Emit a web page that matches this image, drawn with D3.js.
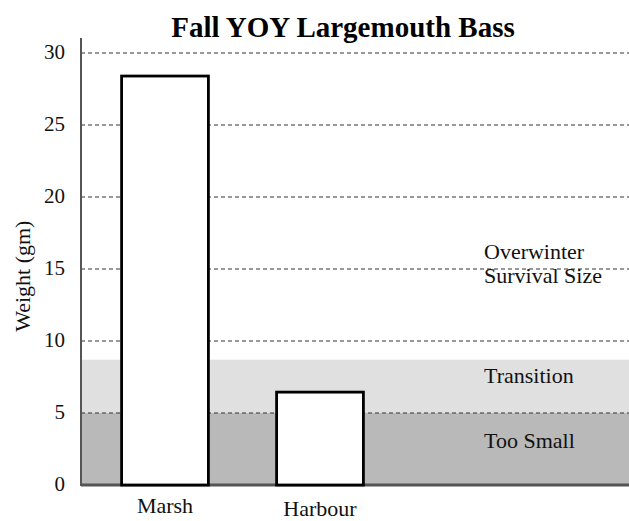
<!DOCTYPE html>
<html>
<head>
<meta charset="utf-8">
<script src="https://cdn.jsdelivr.net/npm/d3@7"></script>
<style>
  body { margin: 0; background: #fff; }
  svg { font-family: "Liberation Serif", "DejaVu Serif", serif; }
</style>
</head>
<body>
<div id="chart"></div>
<script>
// Chart data
const categories = ["Marsh", "Harbour"];
const weights = [28.4, 6.45];
const yTicks = [0, 5, 10, 15, 20, 25, 30];
// shaded zones (gm)
const zones = [
  { name: "Too Small", from: 0, to: 5, color: "#b9b9b9" },
  { name: "Transition", from: 5, to: 8.7, color: "#e0e0e0" }
];
// zone labels, anchored at a weight value (gm)
const zoneLabels = [
  { text: "Too Small", value: 2.57 },
  { text: "Transition", value: 7.08 },
  { text: "Survival Size", value: 14.0 },
  { text: "Overwinter", value: 15.7 }
];

const width = 629, height = 521;
const margin = { top: 53, right: 0, bottom: 36, left: 81 };

const svg = d3.select("#chart")
  .append("svg")
  .attr("width", width)
  .attr("height", height);

const y = d3.scaleLinear()
  .domain([0, 30])
  .range([height - margin.bottom, margin.top]);

const x = d3.scaleBand()
  .domain(categories)
  .range([87.5, 397.5])
  .paddingInner(0.44)
  .paddingOuter(0.22);

// Shaded zones
svg.append("g")
  .selectAll("rect")
  .data(zones)
  .enter()
  .append("rect")
  .attr("x", margin.left)
  .attr("y", d => y(d.to))
  .attr("width", width - margin.left)
  .attr("height", d => y(d.from) - y(d.to))
  .attr("fill", d => d.color);

// Dashed gridlines
svg.append("g")
  .selectAll("line")
  .data(yTicks.filter(t => t > 0))
  .enter()
  .append("line")
  .attr("x1", margin.left)
  .attr("x2", width)
  .attr("y1", d => y(d))
  .attr("y2", d => y(d))
  .attr("stroke", "#333")
  .attr("stroke-width", 1.2)
  .attr("stroke-dasharray", "4,3");

// Y axis
const yAxis = svg.append("g")
  .attr("transform", `translate(${margin.left},0)`)
  .call(d3.axisLeft(y).tickValues(yTicks).tickSize(0).tickPadding(16));
yAxis.select(".domain").remove();
yAxis.selectAll("text")
  .attr("font-family", "Liberation Serif, serif")
  .attr("font-size", 21)
  .attr("dy", "0.25em")
  .attr("fill", "#111");

svg.append("line")
  .attr("x1", margin.left).attr("x2", margin.left)
  .attr("y1", 38).attr("y2", y(0) + 1)
  .attr("stroke", "#555")
  .attr("stroke-width", 2);

svg.append("line")
  .attr("x1", margin.left).attr("x2", width)
  .attr("y1", y(0)).attr("y2", y(0))
  .attr("stroke", "#555")
  .attr("stroke-width", 3);

// Bars
svg.append("g")
  .selectAll("rect")
  .data(categories)
  .enter()
  .append("rect")
  .attr("x", d => x(d))
  .attr("y", (d, i) => y(weights[i]))
  .attr("width", x.bandwidth())
  .attr("height", (d, i) => y(0) - y(weights[i]))
  .attr("fill", "#fff")
  .attr("stroke", "#000")
  .attr("stroke-width", 2.8);

// Category labels
svg.append("g")
  .selectAll("text")
  .data(categories)
  .enter()
  .append("text")
  .attr("x", d => x(d) + x.bandwidth() / 2)
  .attr("y", (d, i) => i === 0 ? 513 : 516)
  .attr("text-anchor", "middle")
  .attr("font-size", 22)
  .attr("fill", "#111")
  .text(d => d);

// Zone labels
svg.append("g")
  .selectAll("text")
  .data(zoneLabels)
  .enter()
  .append("text")
  .attr("x", 484)
  .attr("y", d => y(d.value))
  .attr("font-size", 22)
  .attr("fill", "#111")
  .text(d => d.text);

// Y axis title
svg.append("text")
  .attr("transform", `translate(30,${y(14.5)}) rotate(-90)`)
  .attr("text-anchor", "middle")
  .attr("font-size", 22)
  .attr("fill", "#111")
  .text("Weight (gm)");

// Chart title
svg.append("text")
  .attr("x", 343)
  .attr("y", 37)
  .attr("text-anchor", "middle")
  .attr("font-size", 29)
  .attr("font-weight", "bold")
  .attr("fill", "#000")
  .text("Fall YOY Largemouth Bass");
</script>
</body>
</html>
